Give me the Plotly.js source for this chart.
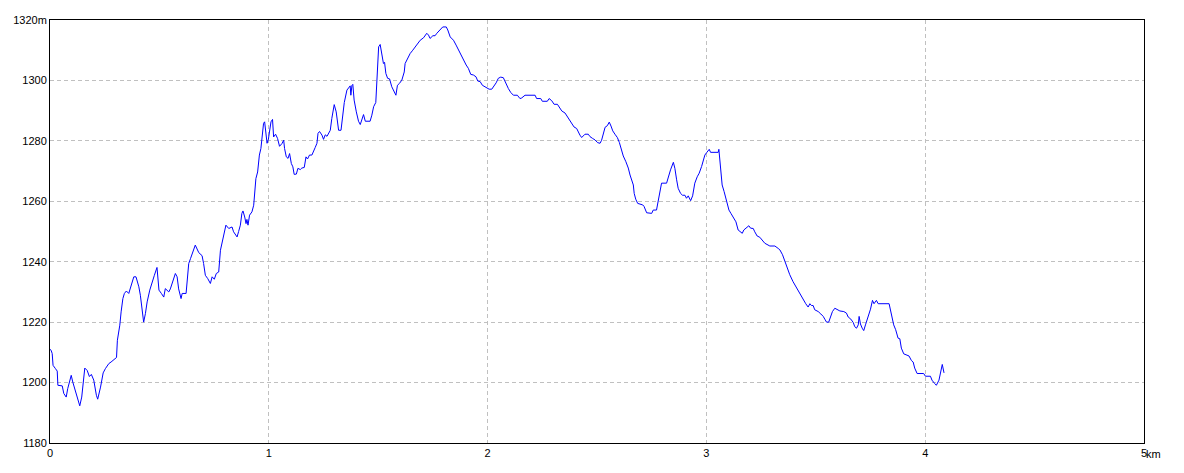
<!DOCTYPE html>
<html>
<head>
<meta charset="utf-8">
<script src="https://cdn.plot.ly/plotly-3.0.1.min.js"></script>
<style>html,body{margin:0;padding:0;background:#fff;}#chart{width:1184px;height:473px;}</style>
</head>
<body>
<div id="chart"></div>
<script>
// Distance along the route (km)
const distKm = [
0.000,0.005,0.010,0.014,0.025,0.033,0.036,0.056,0.063,0.074,0.081,0.097,0.104,0.116,0.129,0.136,0.145,0.154,0.159,0.170,
0.180,0.189,0.200,0.212,0.218,0.231,0.243,0.253,0.269,0.279,0.304,0.308,0.319,0.325,0.333,0.340,0.349,0.360,0.371,0.383,
0.393,0.406,0.413,0.421,0.428,0.436,0.444,0.456,0.467,0.477,0.489,0.498,0.509,0.520,0.527,0.543,0.550,0.562,0.573,0.581,
0.588,0.599,0.604,0.622,0.634,
0.642,0.664,0.680,0.695,0.702,0.710,0.721,0.733,0.741,0.751,0.760,0.771,0.779,0.786,0.794,0.804,0.817,0.832,0.839,0.855,
0.862,0.870,0.877,0.882,0.890,0.896,0.900,0.905,0.912,0.923,0.931,0.935,0.941,0.949,0.957,0.964,0.970,0.976,0.981,0.986,
0.992,0.998,1.004,1.010,1.017,1.022,1.031,1.040,1.049,1.060,1.068,1.072,1.080,1.088,1.095,1.103,1.110,1.116,1.126,1.133,
1.144,1.151,1.162,1.170,1.177,1.186,1.197,1.205,1.212,1.220,1.225,1.232,1.243,1.250,1.258,1.266,1.273,1.281,
1.288,1.299,1.308,1.319,1.330,1.337,1.345,1.357,1.365,1.372,1.375,1.380,1.384,1.390,1.400,1.410,1.418,1.425,1.433,1.441,
1.463,1.471,1.479,1.489,1.494,1.502,1.509,1.517,1.524,1.529,1.535,1.543,1.552,1.562,1.573,1.581,1.588,1.597,1.608,1.619,
1.623,1.634,1.646,1.658,1.669,1.680,1.692,1.707,1.722,1.730,1.737,1.750,1.760,1.768,1.775,1.783,1.795,1.811,1.818,1.829,
1.844,1.856,1.867,1.879,1.890,1.902,1.912,1.923,1.935,1.947,1.955,1.966,1.976,1.986,1.996,2.007,2.019,2.027,2.039,2.049,
2.060,
2.072,2.084,2.095,2.106,2.118,2.136,2.148,2.156,2.171,2.217,2.224,2.243,2.250,2.273,2.281,2.293,2.304,2.319,2.328,2.339,
2.354,2.365,2.377,2.384,2.395,2.407,2.415,2.422,2.430,2.438,2.445,2.460,2.468,2.480,2.491,2.503,2.514,2.521,2.529,2.537,
2.547,2.556,2.564,2.572,2.582,2.593,2.602,2.613,2.620,2.632,2.643,2.651,2.658,2.666,2.670,2.677,2.686,2.699,2.709,2.715,
2.727,2.750,2.757,2.772,2.780,
2.788,2.795,2.818,2.826,2.836,2.849,2.856,2.864,2.871,2.882,2.891,2.902,2.909,2.917,2.928,2.937,2.947,2.958,2.967,2.978,
2.985,2.993,3.001,3.013,3.019,3.054,3.057,3.062,3.065,3.072,3.081,3.092,3.103,3.112,3.123,3.135,3.145,3.156,3.164,3.171,
3.183,3.194,3.202,3.214,3.221,3.232,3.244,3.256,3.267,3.290,3.313,3.328,
3.336,3.348,3.358,3.369,3.381,3.396,3.412,3.427,3.442,3.454,3.465,3.473,3.480,3.488,3.495,3.511,3.523,3.534,3.541,3.549,
3.559,3.567,3.576,3.587,3.597,3.610,3.628,3.640,3.648,3.660,3.671,3.678,3.686,3.694,3.698,3.704,3.712,3.719,3.727,3.739,
3.750,3.759,3.766,3.777,3.785,3.835,3.841,3.847,3.856,3.865,3.876,3.884,3.891,3.902,3.911,3.926,3.937,3.945,3.952,3.963,
3.993,4.001,4.024,4.031,4.043,4.051,4.063,4.071,4.078,4.086
];

// Elevation (m)
const elevM = [
1211.0,1210.7,1209.6,1205.7,1204.6,1203.8,1199.1,1198.9,1196.4,1195.2,1198.0,1202.4,1200.2,1196.9,1193.6,1192.3,1195.2,1200.8,1204.8,1204.0,
1202.0,1202.7,1200.8,1195.8,1194.5,1198.5,1203.2,1204.6,1206.3,1206.8,1208.3,1214.0,1219.0,1223.4,1227.8,1229.5,1230.3,1229.5,1232.2,1235.0,
1235.0,1231.7,1228.9,1222.8,1220.0,1222.8,1226.7,1230.6,1232.8,1235.5,1238.1,1230.6,1229.5,1228.3,1231.1,1230.0,1231.0,1233.3,1236.1,1235.0,
1231.0,1227.8,1229.5,1229.5,1239.4,
1241.0,1245.5,1243.0,1242.0,1239.4,1235.5,1234.4,1232.8,1235.0,1234.2,1236.1,1236.6,1243.8,1246.0,1249.3,1252.1,1251.0,1251.5,1249.9,1248.2,
1250.0,1252.1,1256.0,1256.8,1254.8,1252.6,1254.0,1252.1,1255.4,1256.5,1258.7,1263.7,1267.5,1269.7,1275.3,1277.5,1281.3,1285.8,1286.3,1282.5,
1279.2,1280.5,1284.1,1286.3,1287.1,1281.3,1282.2,1280.8,1278.2,1279.1,1280.2,1277.5,1274.7,1274.2,1275.8,1272.5,1271.4,1268.9,1269.0,1270.9,
1270.5,1271.0,1271.2,1274.7,1274.0,1275.3,1275.3,1276.4,1277.8,1279.2,1282.5,1283.1,1281.9,1280.5,1282.0,1281.5,1282.5,1283.5,
1287.4,1292.0,1289.6,1283.5,1283.5,1288.5,1292.7,1296.8,1297.6,1298.2,1295.1,1298.4,1298.7,1293.5,1289.6,1286.5,1285.4,1287.2,1288.7,1286.5,
1286.5,1288.5,1291.3,1292.7,1300.7,1311.1,1311.9,1308.4,1305.6,1306.0,1302.3,1300.7,1300.5,1297.9,1296.2,1295.1,1298.4,1299.0,1300.1,1302.8,
1305.6,1307.3,1308.9,1310.0,1311.1,1312.2,1313.3,1314.1,1315.6,1315.0,1313.9,1314.8,1314.8,1315.6,1316.1,1317.0,1317.7,1317.7,1316.7,1314.4,
1313.3,1311.7,1310.0,1308.4,1307.0,1305.1,1304.0,1302.0,1301.8,1301.2,1299.8,1299.6,1298.4,1297.9,1297.4,1297.1,1297.1,1297.9,1299.2,1300.7,
1301.1,
1300.9,1298.8,1297.3,1296.0,1295.1,1295.1,1294.0,1294.2,1295.1,1295.1,1294.0,1294.0,1293.1,1293.1,1294.0,1293.3,1292.1,1292.1,1291.0,1289.9,
1289.2,1287.9,1286.8,1285.7,1284.6,1284.1,1282.6,1281.9,1281.1,1281.9,1282.2,1282.2,1281.4,1280.8,1280.3,1279.4,1279.2,1280.2,1282.3,1284.5,
1285.0,1286.2,1284.9,1283.3,1282.2,1281.1,1279.5,1277.0,1275.0,1273.1,1271.0,1268.7,1267.0,1265.4,1262.6,1260.7,1259.3,1259.0,1258.8,1258.3,
1256.2,1256.0,1257.1,1257.1,1259.9,
1262.6,1266.0,1266.0,1268.1,1270.4,1272.9,1270.9,1267.1,1264.3,1262.6,1262.0,1262.0,1261.0,1261.8,1260.2,1261.8,1266.0,1268.1,1269.3,1271.5,
1273.1,1275.3,1276.1,1277.2,1276.2,1276.2,1277.2,1273.1,1269.3,1265.4,1263.2,1260.4,1257.1,1256.0,1254.7,1253.2,1250.5,1249.9,1249.4,1250.5,
1251.1,1251.9,1251.1,1251.0,1249.9,1248.5,1248.1,1247.2,1246.1,1245.2,1245.2,1244.4,
1243.9,1242.3,1240.1,1237.9,1235.7,1233.4,1231.3,1229.4,1227.4,1226.1,1225.0,1226.1,1225.5,1225.5,1224.1,1223.5,1222.7,1221.9,1221.0,1220.0,
1220.0,1221.9,1223.5,1224.6,1224.3,1223.7,1223.5,1223.0,1221.7,1221.0,1219.9,1218.5,1218.0,1219.1,1221.9,1219.4,1218.0,1217.2,1219.1,1221.7,
1224.3,1227.2,1226.1,1227.2,1226.1,1226.1,1224.1,1221.3,1219.1,1217.5,1214.7,1214.5,1211.4,1209.5,1209.2,1208.8,1207.3,1206.8,1204.8,1203.0,
1203.0,1202.1,1202.1,1200.8,1199.7,1199.1,1200.8,1204.1,1206.0,1203.2
];

// Tick values and labels
const xTickVals = [0, 1, 2, 3, 4, 5];
const xTickText = ["0", "1", "2", "3", "4", "5"];
const xUnitLabel = "km";
const yTickVals = [1180, 1200, 1220, 1240, 1260, 1280, 1300, 1320];
const yTickText = ["1180", "1200", "1220", "1240", "1260", "1280", "1300", "1320m"];

const tickFont = {family: "Liberation Sans, Arial, sans-serif", size: 11, color: "#000"};

const trace = {
  x: distKm,
  y: elevM,
  type: "scatter",
  mode: "lines",
  line: {color: "#0000ff", width: 1},
  hoverinfo: "x+y"
};

const layout = {
  width: 1184,
  height: 473,
  margin: {l: 50, r: 40, t: 20, b: 30, pad: 0},
  paper_bgcolor: "#ffffff",
  plot_bgcolor: "#ffffff",
  showlegend: false,
  xaxis: {
    range: [0, 5],
    tickmode: "array",
    tickvals: xTickVals,
    ticktext: xTickText,
    ticks: "",
    tickfont: tickFont,
    showline: true, mirror: true, linecolor: "#000", linewidth: 1,
    showgrid: true, gridcolor: "#c0c0c0", gridwidth: 1, griddash: "4px,3px",
    zeroline: false,
    fixedrange: true
  },
  yaxis: {
    range: [1180, 1320],
    tickmode: "array",
    tickvals: yTickVals,
    ticktext: yTickText,
    ticks: "",
    tickfont: tickFont,
    showline: true, mirror: true, linecolor: "#000", linewidth: 1,
    showgrid: true, gridcolor: "#c0c0c0", gridwidth: 1, griddash: "4px,3px",
    zeroline: false,
    fixedrange: true
  },
  annotations: [{
    x: 5, y: 0, xref: "x", yref: "paper",
    text: xUnitLabel, showarrow: false,
    xanchor: "left", yanchor: "top",
    xshift: 0, yshift: -3,
    font: tickFont
  }]
};

Plotly.newPlot("chart", [trace], layout, {displayModeBar: false, staticPlot: true});
</script>
</body>
</html>
